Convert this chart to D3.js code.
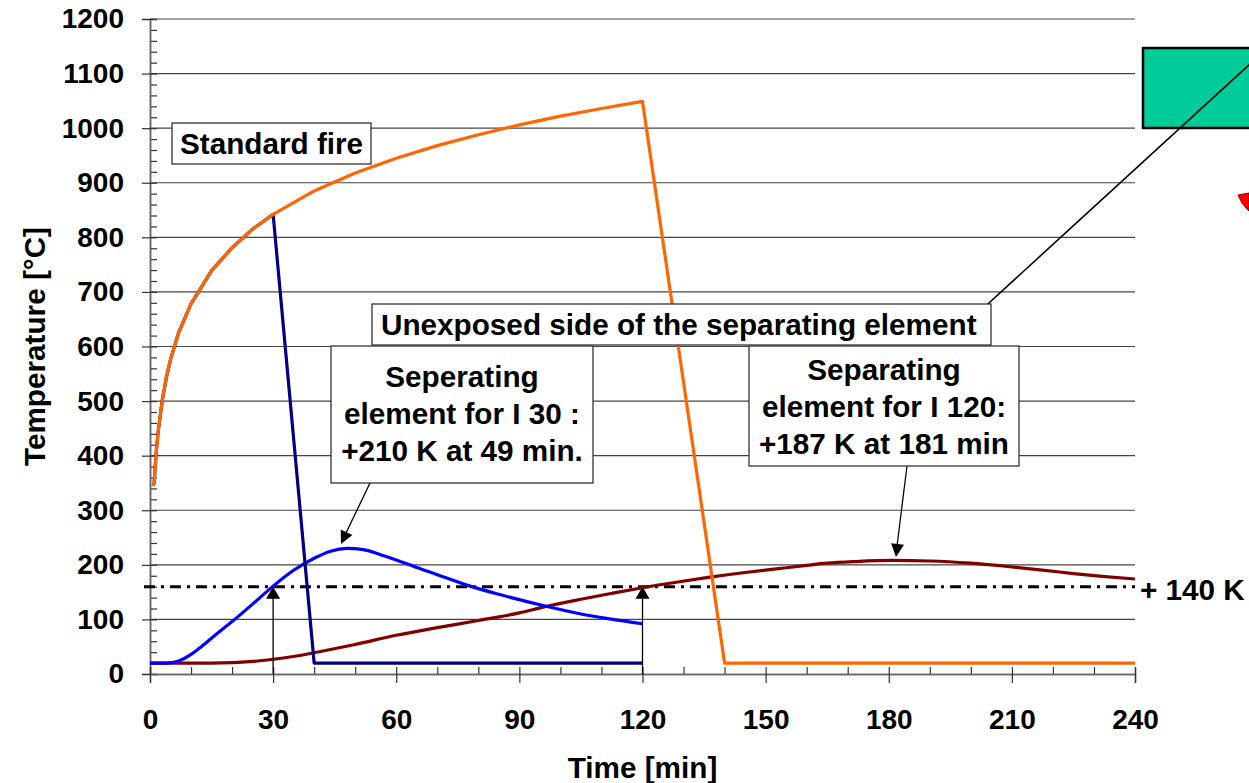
<!DOCTYPE html>
<html>
<head>
<meta charset="utf-8">
<script src="https://cdn.jsdelivr.net/npm/d3@7"></script>
<style>
html,body{margin:0;padding:0;background:#fff;}
svg{display:block;font-family:"Liberation Sans",Arial,sans-serif;font-weight:bold;}
</style>
</head>
<body>
<svg id="chart" width="1249" height="783"></svg>
<script>
// ---- data ----
const xTicks = [0,30,60,90,120,150,180,210,240];
const yTicks = [0,100,200,300,400,500,600,700,800,900,1000,1100,1200];
const fireT = [0.75,1,1.5,2,3,4,5,7,10,15,20,25,30,40,50,60,70,80,90,100,110,120,140,240];
const fireV = [345,349,405,445,502,544,576,626,678,739,781,815,842,885,918,945,968,988,1006,1022,1036,1049,20,20];
const navyT = [0.75,1,1.5,2,3,4,5,7,10,15,20,25,30,40,120];
const navyV = [345,349,405,445,502,544,576,626,678,739,781,815,842,20,20];
const i30T = [0,4,7,10,12,16,20,25,30,35,40,44,48,52,56,60,65,70,78,85,96,105,112,120];
const i30V = [20,20,24,36,47,72,96,128,161,190,212,225,230,228,219,209,195,182,161,146,125,110,101,92];
const i120T = [0,10,20,25,30,35,40,50,60,70,80,90,96,105,112,120,129,136,145,152,160,165,172,181,190,200,209,218,225,232,240];
const i120V = [20,20,21,23,27,32,39,54,71,85,98,112,123,137,147,158,169,177,186,192,199,203,206,208,207,203,197,190,184,179,174];
const criterion = 160;
const arrowTimes = [30,120];

// ---- layout ----
const svg = d3.select("#chart");
const L = 150, R = 1135, T = 19, B = 674;
const x = d3.scaleLinear().domain([0,240]).range([L,R]);
const y = d3.scaleLinear().domain([0,1200]).range([B,T]);
const FS = 28;     // tick labels
const FA = 29.7;   // titles & annotations

// gridlines
svg.append("g").selectAll("line").data(yTicks.filter(d=>d>0)).join("line")
  .attr("x1",L).attr("x2",R).attr("y1",d=>y(d)).attr("y2",d=>y(d))
  .attr("stroke","#444").attr("stroke-width",1.2);

// y axis
const yMinor = d3.range(0,1201,20).filter(d=>d%100!==0);
const gyMin = svg.append("g").attr("transform",`translate(${L},0)`)
  .call(d3.axisLeft(y).tickValues(yMinor).tickSize(-7).tickFormat(""));
const gy = svg.append("g").attr("transform",`translate(${L},0)`)
  .call(d3.axisLeft(y).tickValues(yTicks).tickSize(8).tickPadding(18).tickFormat(d3.format("d")));
gy.selectAll(".tick line").attr("x2",-8).attr("x1",7);
gy.selectAll("text").attr("font-size",FS).attr("font-family","Liberation Sans, Arial").attr("font-weight","bold").attr("fill","#000");

// x axis
const xMinor = d3.range(0,241,10).filter(d=>d%30!==0);
const gxMin = svg.append("g").attr("transform",`translate(0,${B})`)
  .call(d3.axisBottom(x).tickValues(xMinor).tickSize(-7).tickFormat(""));
const gx = svg.append("g").attr("transform",`translate(0,${B})`)
  .call(d3.axisBottom(x).tickValues(xTicks).tickSize(9).tickFormat(d3.format("d")));
gx.selectAll(".tick line").attr("y1",-7).attr("y2",9);
gx.selectAll("text").attr("y",35).attr("font-size",FS).attr("font-family","Liberation Sans, Arial").attr("font-weight","bold").attr("fill","#000");
[gyMin,gy,gxMin,gx].forEach(g=>{
  g.select(".domain").attr("stroke","#666").attr("stroke-width",1.5);
  g.selectAll(".tick line").attr("stroke","#333").attr("stroke-width",1.2);
});

// axis titles
svg.append("text").attr("x",(L+R)/2).attr("y",778).attr("text-anchor","middle")
  .attr("font-size",FA).text("Time [min]");
svg.append("text").attr("transform",`translate(45,${(T+B)/2}) rotate(-90)`).attr("text-anchor","middle")
  .attr("font-size",FA).text("Temperature [°C]");

// criterion dash-dot line
svg.append("line").attr("x1",L-6).attr("x2",R).attr("y1",y(criterion)).attr("y2",y(criterion))
  .attr("stroke","#000").attr("stroke-width",3).attr("stroke-dasharray","11,6,3,6");
svg.append("text").attr("x",1140).attr("y",y(criterion)+13).attr("font-size",FA).text("+ 140 K");

// curves
const lineLin = d3.line().x(d=>x(d[0])).y(d=>y(d[1]));
const lineSmooth = d3.line().x(d=>x(d[0])).y(d=>y(d[1])).curve(d3.curveMonotoneX);
function curve(ts,vs,color,gen){
  svg.append("path").datum(ts.map((t,i)=>[t,vs[i]])).attr("d",gen)
    .attr("fill","none").attr("stroke",color).attr("stroke-width",3.2).attr("stroke-linejoin","round");
}
curve(i120T,i120V,"#800000",lineSmooth);
curve(i30T,i30V,"#0000FF",lineSmooth);
curve(navyT,navyV,"#000080",lineLin);
curve(fireT,fireV,"#FF6600",lineLin);

// arrowheads
function arrowHead(tx,ty,fx,fy,len,wid){
  const a = Math.atan2(ty-fy,tx-fx);
  const bx = tx - len*Math.cos(a), by = ty - len*Math.sin(a);
  const px = -Math.sin(a)*wid/2, py = Math.cos(a)*wid/2;
  svg.append("path").attr("d",`M${tx},${ty}L${bx+px},${by+py}L${bx-px},${by-py}Z`).attr("fill","#000");
}
arrowTimes.forEach(t=>{
  svg.append("line").attr("x1",x(t)).attr("x2",x(t)).attr("y1",B).attr("y2",y(criterion)+6)
    .attr("stroke","#000").attr("stroke-width",1.3);
  arrowHead(x(t),y(criterion),x(t),B,12,14);
});

// leader to green box
svg.append("rect").attr("x",1143).attr("y",48).attr("width",120).attr("height",80)
  .attr("fill","#00CC99").attr("stroke","#000").attr("stroke-width",2.5);
svg.append("line").attr("x1",978).attr("y1",313).attr("x2",1262).attr("y2",53)
  .attr("stroke","#000").attr("stroke-width",1.6);
svg.append("path").attr("d","M1238,195 Q1241,204 1249,211 L1249,193 Z")
  .attr("fill","#FF0000").attr("stroke","#990000").attr("stroke-width",1);

// pointer arrows from boxes
svg.append("line").attr("x1",370).attr("y1",483).attr("x2",346).attr("y2",533).attr("stroke","#000").attr("stroke-width",1.3);
arrowHead(341,544,370,483,13,13);
svg.append("line").attr("x1",907).attr("y1",466).attr("x2",897).attr("y2",546).attr("stroke","#000").attr("stroke-width",1.3);
arrowHead(896,557,907,466,13,13);

// text boxes
function box(x0,y0,x1,y1,lines,anchor,tx,baselines){
  svg.append("rect").attr("x",x0).attr("y",y0).attr("width",x1-x0).attr("height",y1-y0)
    .attr("fill","#fff").attr("stroke","#333").attr("stroke-width",1.3);
  lines.forEach((s,i)=>{
    svg.append("text").attr("x",tx).attr("y",baselines[i]).attr("text-anchor",anchor)
      .attr("font-size",FA).text(s);
  });
}
box(172,123,371,164,["Standard fire"],"start",180,[154]);
box(372,304,991,345,["Unexposed side of the separating element"],"start",381,[335]);
box(331,346,593,483,["Seperating","element for I 30 :","+210 K at 49 min."],"middle",462,[387,424,461]);
box(749,346,1019,466,["Separating","element for I 120:","+187 K at 181 min"],"middle",884,[380,417,454]);
</script>
</body>
</html>
